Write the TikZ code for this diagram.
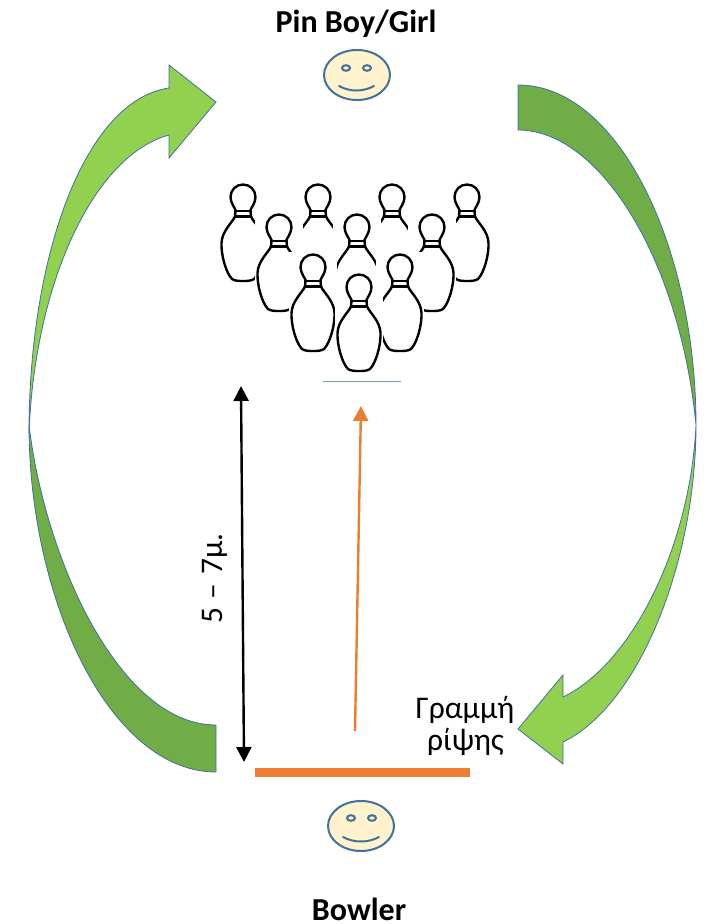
\documentclass[tikz,border=0pt]{standalone}
\usepackage{fontspec}
\setmainfont{Carlito}
\usetikzlibrary{arrows.meta,shapes.geometric}
\definecolor{lightgr}{HTML}{92D050}
\definecolor{darkgr}{HTML}{70AD47}
\definecolor{edgeblue}{HTML}{41719C}
\definecolor{faceyel}{HTML}{FFF2CC}
\definecolor{orangeline}{HTML}{ED7D31}
\definecolor{thinblue}{HTML}{5B9BD5}
\tikzset{
  x=1pt,y=-1pt,
  bentlight/.style={fill=lightgr,draw=edgeblue,line width=0.8pt,line join=miter},
  bentdark/.style={fill=darkgr,draw=edgeblue,line width=0.8pt,line join=miter},
  face/.style={ellipse,draw=edgeblue,fill=faceyel,line width=2pt,minimum width=66pt,minimum height=50pt,inner sep=0pt},
  facepart/.style={draw=edgeblue,line width=2pt,line cap=round},
  boldlabel/.style={anchor=base,font=\fontsize{32}{32}\selectfont\bfseries,inner sep=0pt},
  plainlabel/.style={anchor=base,font=\fontsize{31.5}{32}\selectfont,inner sep=0pt},
  pinline/.style={draw=black,line width=2.4pt,line cap=round,line join=round},
  bowlingpin/.pic={
    \fill[white] (-24,-15) rectangle (24,90);
    \draw[pinline] (-7,14) .. controls (-8,11) and (-12.5,6) .. (-12.5,0)
      .. controls (-12.5,-7) and (-7,-12.5) .. (0,-12.5)
      .. controls (7,-12.5) and (12.5,-7) .. (12.5,0)
      .. controls (12.5,6) and (8,11) .. (7,14);
    \draw[pinline] (-8,14) -- (8,14);
    \draw[pinline] (-8,19.5) -- (8,19.5);
    \draw[pinline] (-7.5,14) -- (-8,19.5);
    \draw[pinline] (7.5,14) -- (8,19.5);
    \begin{scope}
      \clip (-24,-15) rectangle (24,90);
      \draw[pinline] (-8,19.5) .. controls (-11,26) and (-21,34) .. (-21.5,46)
        .. controls (-22,58) and (-17,76) .. (-11,82)
        .. controls (-8,84) and (-4,84) .. (0,84)
        .. controls (4,84) and (8,84) .. (11,82)
        .. controls (17,76) and (22,58) .. (21.5,46)
        .. controls (21,34) and (11,26) .. (8,19.5);
    \end{scope}
  }
}
\begin{document}
\begin{tikzpicture}
\useasboundingbox (0,0) rectangle (706,924);
\fill[white] (0,0) rectangle (706,924);

% pins, back to front
\pic at (243,197) {bowlingpin};
\pic at (318,197) {bowlingpin};
\pic at (392,197) {bowlingpin};
\pic at (467,197) {bowlingpin};
\pic at (279,227) {bowlingpin};
\pic at (357,227) {bowlingpin};
\pic at (432,227) {bowlingpin};
\pic at (313,267) {bowlingpin};
\pic at (400,267) {bowlingpin};
\pic at (359,287) {bowlingpin};

% curved arrows
\path[bentlight] (29,433) .. controls (29,255) and (85,100) .. (169,88)
  -- (169,65) -- (216,102) -- (169,158) -- (169,135)
  .. controls (95,155) and (35,280) .. (29,433) -- cycle;
\path[bentdark] (518,85) .. controls (620,85) and (696,250) .. (696,425)
  .. controls (680,260) and (600,130) .. (518,130) -- cycle;
\path[bentlight] (696,425) .. controls (696,560) and (640,705) .. (563,742)
  -- (563,764) -- (518,729) -- (563,675) -- (563,697)
  .. controls (630,665) and (690,550) .. (696,425) -- cycle;
\path[bentdark] (29,425) .. controls (29,600) and (110,772) .. (216,772)
  -- (216,725) .. controls (120,725) and (45,560) .. (29,425) -- cycle;

% faces
\node[face] (pinface) at (357,75) {};
\draw[facepart,fill=faceyel] (346,68) ellipse [x radius=4,y radius=2.8];
\draw[facepart,fill=faceyel] (367,68) ellipse [x radius=4,y radius=2.8];
\draw[facepart] (339,86) .. controls (350,92) and (363,92) .. (374,86);
\node[face] (bowlface) at (361,826) {};
\draw[facepart,fill=faceyel] (351,818) ellipse [x radius=4,y radius=2.8];
\draw[facepart,fill=faceyel] (372,818) ellipse [x radius=4,y radius=2.8];
\draw[facepart] (343,837) .. controls (354,843) and (368,843) .. (379,837);

% lines and arrows
\coordinate (pinfootL) at (323,381.5);
\coordinate (pinfootR) at (401,381.5);
\draw[thinblue,line width=1.2pt] (pinfootL) -- (pinfootR);
\coordinate (disttop) at (241,386);
\coordinate (distbot) at (244,762);
\draw[black,line width=2.4pt,{Triangle[width=15pt,length=15pt]}-{Triangle[width=15pt,length=15pt]}] (disttop) -- (distbot);
\coordinate (throwstart) at (355,731);
\coordinate (throwend) at (361,406);
\draw[orangeline,line width=2.4pt,-{Triangle[width=15pt,length=15pt]}] (throwstart) -- (throwend);
\coordinate (lineL) at (255,772.5);
\coordinate (lineR) at (470,772.5);
\draw[orangeline,line width=9pt] (lineL) -- (lineR);

% labels
\node[boldlabel] (pinlabel) at (356,32) {Pin Boy/Girl};
\node[boldlabel] (bowlerlabel) at (359,920) {Bowler};
\node[plainlabel] (line1) at (465,718) {Γραμμή};
\node[plainlabel] (line2) at (465.5,750) {ρίψης};
\node[plainlabel,rotate=90] (dist) at (222,578.5) {5\hspace{0.28em}–\hspace{0.28em}7μ.};
\end{tikzpicture}
\end{document}
